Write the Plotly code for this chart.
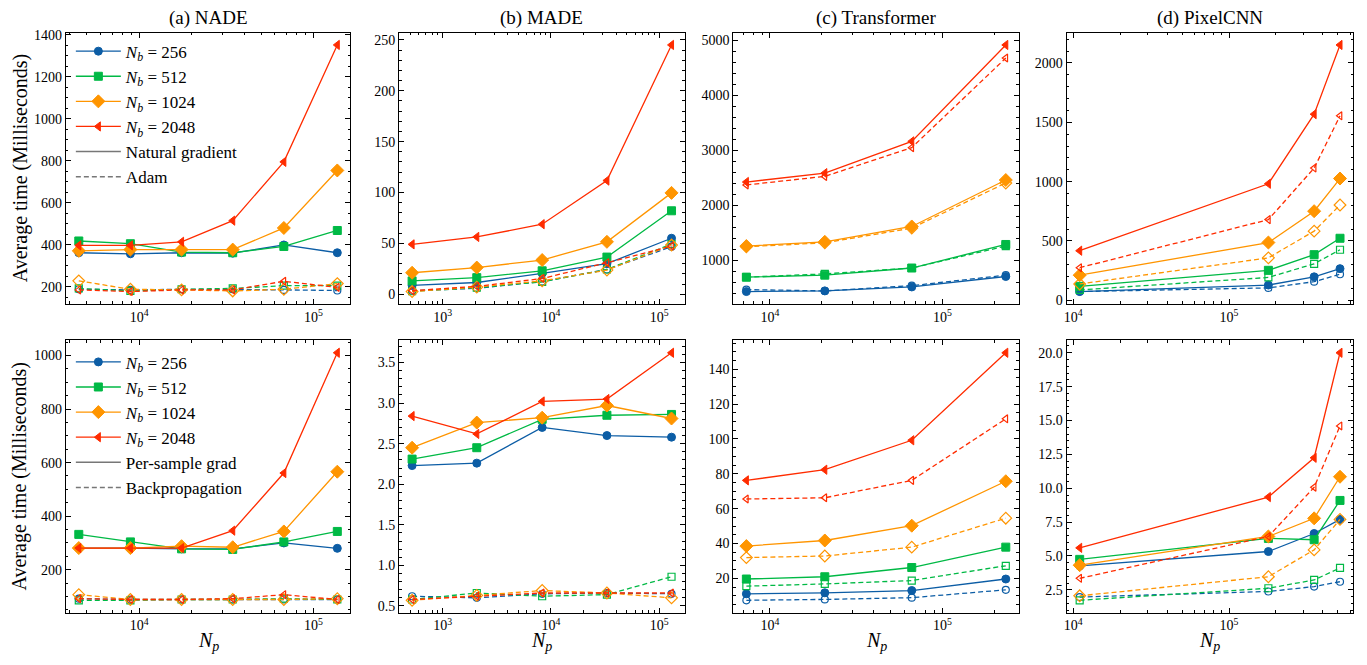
import math
import plotly.graph_objects as go

# ---------------- data ----------------
batch_sizes = [256, 512, 1024, 2048]
panel_titles = ["(a) NADE", "(b) MADE", "(c) Transformer", "(d) PixelCNN"]
x_tick_exponents = [3, 4, 5]

np_nade = [4500, 8900, 17500, 34400, 67600, 137000]
np_made = [522, 2066, 8300, 32900, 130000]
np_transformer = [7300, 20800, 66400, 233000]
np_pixelcnn = [11000, 179000, 352000, 516000]

# top row: Natural gradient (solid) vs Adam (dashed); rows = N_b 256, 512, 1024, 2048
nade_natgrad = [[362, 357, 362, 360, 399, 362],
                [418, 405, 365, 362, 392, 468],
                [371, 377, 377, 377, 480, 754],
                [397, 397, 414, 515, 795, 1352]]
nade_adam = [[188, 185, 188, 188, 185, 182],
             [192, 180, 188, 192, 205, 205],
             [228, 188, 185, 180, 188, 215],
             [185, 177, 185, 185, 226, 197]]
made_natgrad = [[8.6, 11.5, 20.5, 30, 55],
                [13.1, 16.3, 23, 36.5, 82],
                [21.1, 26.2, 33.6, 51.5, 99.6],
                [49, 56.3, 68.8, 111.7, 245]]
made_adam = [[3.5, 5.8, 12.5, 24.3, 46.7],
             [2.9, 6.4, 12.2, 24.3, 49.3],
             [2.6, 7.0, 13.1, 23.7, 48.3],
             [3.5, 7.7, 15.4, 31, 47.4]]
transformer_natgrad = [[429, 441, 513, 703],
                       [691, 727, 857, 1285],
                       [1256, 1333, 1612, 2456],
                       [2420, 2581, 3158, 4911]]
transformer_adam = [[465, 441, 536, 727],
                    [691, 750, 857, 1256],
                    [1244, 1315, 1582, 2403],
                    [2367, 2522, 3045, 4673]]
pixelcnn_natgrad = [[74, 129, 198, 267],
                    [118, 253, 385, 523],
                    [212, 487, 751, 1026],
                    [418, 982, 1568, 2151]]
pixelcnn_adam = [[74, 105, 157, 220],
                 [88, 193, 308, 426],
                 [138, 358, 583, 803],
                 [275, 680, 1114, 1554]]

# bottom row: Per-sample grad (solid) vs Backpropagation (dashed)
nade_persample = [[281, 281, 278, 278, 300, 280],
                  [332, 304, 278, 276, 304, 343],
                  [281, 281, 288, 284, 343, 566],
                  [281, 281, 281, 346, 561, 1010]]
nade_backprop = [[92, 89, 89, 89, 89, 89],
                 [86, 86, 89, 89, 92, 89],
                 [107, 89, 89, 89, 89, 92],
                 [92, 89, 89, 92, 107, 89]]
made_persample = [[2.23, 2.26, 2.70, 2.60, 2.58],
                  [2.31, 2.45, 2.80, 2.85, 2.86],
                  [2.45, 2.76, 2.82, 2.97, 2.81],
                  [2.84, 2.62, 3.02, 3.05, 3.62]]
made_backprop = [[0.62, 0.60, 0.65, 0.66, 0.65],
                 [0.58, 0.66, 0.62, 0.64, 0.86],
                 [0.57, 0.63, 0.69, 0.66, 0.60],
                 [0.58, 0.62, 0.66, 0.66, 0.66]]
transformer_persample = [[11.1, 11.7, 13.0, 19.6],
                         [19.6, 20.9, 26.2, 37.9],
                         [38.5, 41.7, 50.2, 75.7],
                         [76.2, 82.3, 99.2, 149.4]]
transformer_backprop = [[7.4, 7.9, 8.9, 13.4],
                        [15.5, 16.8, 18.7, 27.2],
                        [31.9, 32.8, 37.9, 54.5],
                        [65.5, 66.2, 76.2, 111.5]]
pixelcnn_persample = [[4.27, 5.33, 6.66, 7.7],
                      [4.75, 6.30, 6.2, 9.1],
                      [4.32, 6.44, 7.78, 10.85],
                      [5.6, 9.35, 12.25, 20.0]]
pixelcnn_backprop = [[1.97, 2.38, 2.74, 3.1],
                     [1.73, 2.62, 3.23, 4.12],
                     [2.06, 3.47, 5.45, 7.7],
                     [3.35, 6.44, 10.07, 14.6]]

# ---------------- style ----------------
colors = ["#0C5DA5", "#00B945", "#FF9500", "#FF2C00"]
symbols = ["circle", "square", "diamond", "triangle-left"]
sizes = [8, 8, 10, 8]
FONT = "Liberation Serif"

panels = [
    (np_nade, nade_natgrad, nade_adam, 200, 4, None),
    (np_made, made_natgrad, made_adam, 50, 5, None),
    (np_transformer, transformer_natgrad, transformer_adam, 1000, 5, None),
    (np_pixelcnn, pixelcnn_natgrad, pixelcnn_adam, 500, 5, None),
    (np_nade, nade_persample, nade_backprop, 200, 4, None),
    (np_made, made_persample, made_backprop, 0.5, 5, ".1f"),
    (np_transformer, transformer_persample, transformer_backprop, 20, 4, None),
    (np_pixelcnn, pixelcnn_persample, pixelcnn_backprop, 2.5, 5, ".1f"),
]
legend_labels = [("Natural gradient", "Adam"), ("Per-sample grad", "Backpropagation")]

W, H = 1367, 665
col_px = [(63, 348), (397, 683), (732, 1018), (1066, 1353)]
row_px = [(28, 303), (340, 616)]

fig = go.Figure()
layout = {}

for p, (xs, solid, dashed, dt, ndiv, fmt) in enumerate(panels):
    row, col = divmod(p, 4)
    ax = "" if p == 0 else str(p + 1)
    xref, yref = "x" + ax, "y" + ax
    leg = "legend" if row == 0 else "legend2"
    for k in range(4):
        fig.add_trace(go.Scatter(
            x=xs, y=solid[k], mode="lines+markers", xaxis=xref, yaxis=yref,
            line=dict(color=colors[k], width=1.3),
            marker=dict(symbol=symbols[k], size=sizes[k], color=colors[k],
                        line=dict(color=colors[k], width=1)),
            name="<i>N</i><sub><i>b</i></sub> = %d" % batch_sizes[k],
            legend=leg, showlegend=(col == 0)))
        fig.add_trace(go.Scatter(
            x=xs, y=dashed[k], mode="lines+markers", xaxis=xref, yaxis=yref,
            line=dict(color=colors[k], width=1.3, dash="5px,3px"),
            marker=dict(symbol=symbols[k] + "-open", size=sizes[k] - 1, color=colors[k],
                        line=dict(color=colors[k], width=1.2)),
            showlegend=False))
    if col == 0:
        for name, dash in zip(legend_labels[row], ["solid", "5px,3px"]):
            fig.add_trace(go.Scatter(
                x=[None], y=[None], mode="lines", xaxis=xref, yaxis=yref,
                line=dict(color="#777777", width=1.5, dash=dash),
                name=name, legend=leg, showlegend=True))

    # autoscale like matplotlib (5% margins)
    lx = [math.log10(v) for v in xs]
    xr = max(lx) - min(lx)
    xrange = [min(lx) - 0.05 * xr, max(lx) + 0.05 * xr]
    allv = [v for s in solid + dashed for v in s]
    yr = max(allv) - min(allv)
    yrange = [min(allv) - 0.05 * yr, max(allv) + 0.05 * yr]

    minor_vals = [m * 10 ** e for e in range(2, 7) for m in range(2, 10)]
    x0, x1 = col_px[col]
    y0, y1 = row_px[row]
    layout["xaxis" + ax] = dict(
        type="log", range=xrange, domain=[x0 / W, x1 / W], anchor=yref,
        tickmode="array", tickvals=[10 ** e for e in x_tick_exponents],
        ticktext=["10<sup>%d</sup>" % e for e in x_tick_exponents],
        ticks="inside", ticklen=5, tickwidth=1, tickcolor="black",
        showline=True, linecolor="black", linewidth=1, mirror="allticks",
        showgrid=False, zeroline=False,
        minor=dict(tickmode="array", tickvals=minor_vals, ticks="inside",
                   ticklen=2.5, tickwidth=1, tickcolor="black", showgrid=False),
        tickfont=dict(family=FONT, size=14, color="black"))
    layout["yaxis" + ax] = dict(
        range=yrange, domain=[1 - y1 / H, 1 - y0 / H], anchor=xref,
        tick0=0, dtick=dt, tickformat=fmt,
        ticks="inside", ticklen=5, tickwidth=1, tickcolor="black",
        showline=True, linecolor="black", linewidth=1, mirror="allticks",
        showgrid=False, zeroline=False,
        minor=dict(dtick=dt / ndiv, tick0=0, ticks="inside", ticklen=2.5,
                   tickwidth=1, tickcolor="black", showgrid=False),
        tickfont=dict(family=FONT, size=14, color="black"))

annotations = []
for c, t in enumerate(panel_titles):
    x0, x1 = col_px[c]
    annotations.append(dict(text=t, x=(x0 + x1) / 2 / W, y=1 - 13 / H, xref="paper",
                            yref="paper", showarrow=False, xanchor="center",
                            yanchor="middle",
                            font=dict(family=FONT, size=19, color="black")))
    annotations.append(dict(text="<i>N</i><sub><i>p</i></sub>", x=(x0 + x1) / 2 / W,
                            y=1 - 645 / H, xref="paper", yref="paper", showarrow=False,
                            xanchor="center", yanchor="middle",
                            font=dict(family=FONT, size=20, color="black")))
for r in range(2):
    y0, y1 = row_px[r]
    annotations.append(dict(text="Average time (Milliseconds)", x=17 / W,
                            y=1 - (y0 + y1) / 2 / H, xref="paper", yref="paper",
                            showarrow=False, textangle=-90, xanchor="center",
                            yanchor="middle",
                            font=dict(family=FONT, size=20, color="black")))

legend_style = dict(bgcolor="rgba(0,0,0,0)", borderwidth=0, xanchor="left",
                    yanchor="top", font=dict(family=FONT, size=17, color="black"),
                    itemwidth=45, tracegroupgap=0)

fig.update_layout(
    width=W, height=H, margin=dict(l=0, r=0, t=0, b=0),
    paper_bgcolor="white", plot_bgcolor="white",
    font=dict(family=FONT, color="black"),
    annotations=annotations,
    legend=dict(x=68 / W, y=1 - 29 / H, **legend_style),
    legend2=dict(x=68 / W, y=1 - 344 / H, **legend_style),
    **layout)

fig.write_html("out.html")
